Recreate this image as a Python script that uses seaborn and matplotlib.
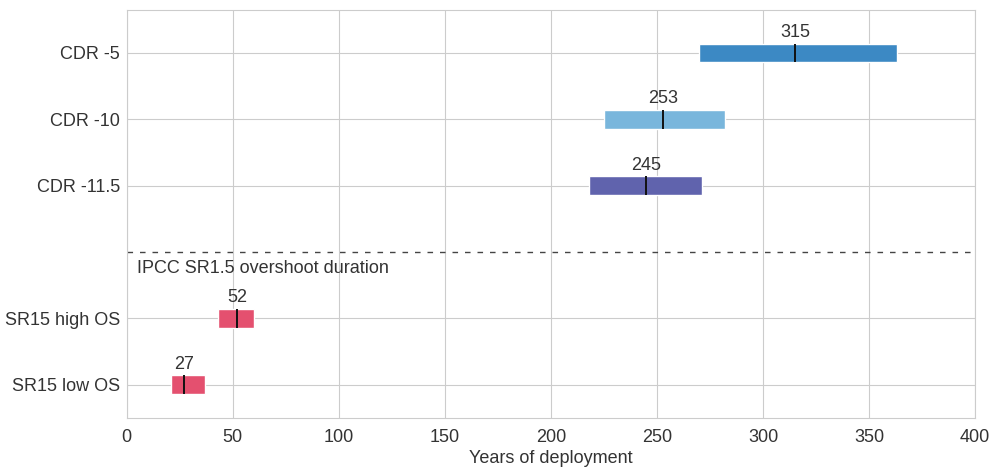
import numpy as np
import pandas as pd
import matplotlib.pyplot as plt
import seaborn as sns

# Data
labels = ['CDR -5', 'CDR -10', 'CDR -11.5', 'SR15 high OS', 'SR15 low OS']
rows = [0, 1, 2, 4, 5]
low = [270, 225, 218, 43, 21]
high = [363, 282, 271, 60, 37]
median = [315, 253, 245, 52, 27]
colors = ['#3c89c4', '#79b6dc', '#6063ad', '#e4506f', '#e4506f']

df = pd.DataFrame({'label': labels, 'row': rows, 'low': low,
                   'high': high, 'median': median})

sns.set_style('whitegrid')
plt.rcParams['font.family'] = ['Liberation Sans', 'DejaVu Sans']

fig = plt.figure(figsize=(9.9, 4.7), dpi=100)
ax = fig.add_axes([0.128, 0.111, 0.857, 0.868])

bh = 0.28
ax.barh(df['row'], df['high'] - df['low'], left=df['low'], height=bh,
        color=colors, zorder=3)
ax.vlines(df['median'], df['row'] - bh / 2, df['row'] + bh / 2,
          color='#111111', lw=1.4, zorder=4)
for _, r in df.iterrows():
    ax.text(r['median'], r['row'] - bh / 2 - 0.04, str(r['median']),
            ha='center', va='bottom', fontsize=13, color='#333333')

# separator
ax.axhline(3, color='#444444', lw=1, ls=(0, (4, 5)), zorder=2)
ax.text(5, 3.25, 'IPCC SR1.5 overshoot duration', fontsize=13,
        color='#333333', va='center', ha='left')

ax.set_xlim(0, 400)
ax.set_xticks(np.arange(0, 401, 50))
ax.set_ylim(5.5, -0.65)
ax.set_yticks(rows)
ax.set_yticklabels(labels)
ax.tick_params(labelsize=13, colors='#333333', length=0)
ax.tick_params(axis='x', pad=8)
ax.tick_params(axis='y', pad=5)
ax.set_xlabel('Years of deployment', fontsize=13, color='#333333', labelpad=3)
ax.set_ylabel('')

plt.savefig('out.png', dpi=100)
